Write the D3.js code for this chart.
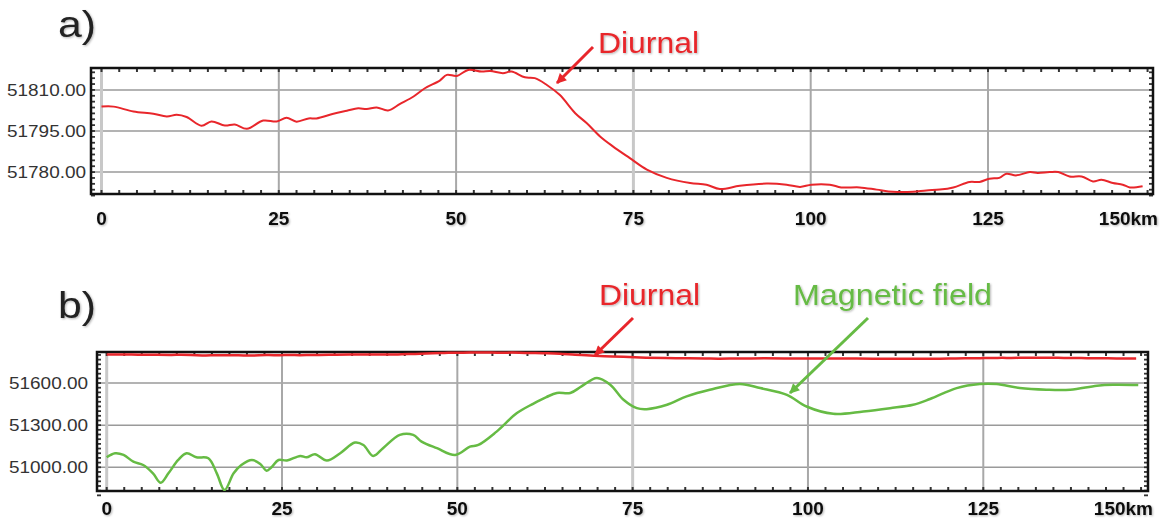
<!DOCTYPE html>
<html>
<head>
<meta charset="utf-8">
<script src="https://cdn.jsdelivr.net/npm/d3@7"></script>
<style>
  body { margin: 0; background: #fff; }
  text { font-family: "Liberation Sans", Arial, sans-serif; }
</style>
</head>
<body>
<script>
// diurnal variation, panel a (and repeated in panel b)
var diurnalKm = [0,1.7,4.5,7.3,9.2,10.6,12,14.1,15.5,17.4,18.8,20.5,22.8,24.7,26.1,27.5,29.2,30.3,32.7,34.6,
  36.2,37.4,38.8,40.4,42.1,44,45.6,47.7,48.7,50.1,51.7,53.6,54.8,56.6,57.8,59.7,61.1,62.8,64.6,66.8,
  68.4,70.3,72.1,74.5,76.9,79.7,83,85.3,87.2,90,93.8,96.6,98.5,100.1,102.7,104.3,106.9,109.3,111.6,114.4,
  116.3,118.2,120.1,122.4,123.8,125.2,126.6,127.6,129,130.9,132,133.7,134.9,136.5,138.2,139.8,141,142.6,144,145,146.8];
var diurnalNT = [51803.9,51803.9,51802.1,51801.3,51800.3,51800.9,51800.1,51796.9,51798.5,51797.0,51797.4,51795.8,51798.8,51798.5,51799.8,51798.4,51799.6,51799.6,51801.3,51802.4,
  51803.3,51803.0,51803.6,51802.5,51804.9,51807.6,51810.6,51813.4,51815.5,51815.1,51817.3,51816.7,51816.9,51816.1,51816.7,51814.6,51814.3,51811.8,51808.2,51801.5,
  51797.9,51793.0,51789.4,51785.1,51780.9,51777.9,51776.0,51775.4,51773.8,51775.0,51775.8,51775.4,51774.6,51775.4,51775.4,51774.4,51774.4,51773.6,51772.8,51772.8,
  51773.3,51773.6,51774.4,51776.4,51776.4,51777.6,51777.9,51779.4,51778.8,51780.0,51779.7,51780.0,51780.0,51778.4,51778.4,51776.6,51777.2,51776.0,51775.4,51774.4,51774.8];

// magnetic field, panel b
var fieldKm = [0,1.2,2.4,3.8,5.2,6.6,7.7,8.8,10.2,11.4,12.8,14.5,15.7,16.8,18.1,19.2,20.7,21.9,22.8,23.5,
  24.5,25.7,27.6,28.5,29.7,31.4,33.3,35.4,36.6,38,39.4,41.8,43.7,44.9,47.1,49.7,51.8,53,55.6,58.5,
  60.8,62.7,64.2,66.1,67.7,69.9,71.8,73.7,75.6,77,79.9,82.7,86,90.3,93.2,97,99.8,103.6,107.9,111.7,
  115,117.4,121.2,124.5,126.9,130.2,134,137.4,141.2,143.5,147.1];
var fieldNT = [51071,51100,51088,51040,51016,50957,50890,50957,51052,51100,51071,51064,50957,50838,50957,51016,51052,51024,50976,51000,
  51052,51048,51081,51071,51093,51048,51100,51176,51159,51081,51136,51231,51231,51183,51136,51088,51147,51159,51254,51386,
  51452,51500,51529,51529,51576,51636,51588,51481,51421,51414,51445,51505,51552,51593,51564,51516,51433,51381,51398,51421,
  51445,51486,51564,51593,51593,51564,51552,51552,51581,51588,51586];

var kmTicks = [0,25,50,75,100,125];
var kmLabels = ["0","25","50","75","100","125","150km"];
var yTicksA = [51780,51795,51810];
var yTicksB = [51000,51300,51600];

var red = "#e8262b", green = "#66bb44";

var svg = d3.select("body").append("svg").attr("width",1165).attr("height",521);
var defs = svg.append("defs");
defs.append("filter").attr("id","sh").attr("x","-10%").attr("y","-20%").attr("width","130%").attr("height","150%")
  .append("feDropShadow").attr("dx",1).attr("dy",1).attr("stdDeviation",0.8)
  .attr("flood-color","#000").attr("flood-opacity",0.3);
[["arR",red],["arG",green]].forEach(function(m){
  defs.append("marker").attr("id",m[0]).attr("viewBox","0 0 10 10").attr("refX",9).attr("refY",5)
    .attr("markerWidth",12).attr("markerHeight",10).attr("markerUnits","userSpaceOnUse").attr("orient","auto")
    .append("path").attr("d","M0,0 L10,5 L0,10 z").attr("fill",m[1]);
});

var panels = [
  {id:"a", left:91, right:1153, top:68, bottom:194, xr:[101.5,1165.3], yd:[51772,51818], yTicks:yTicksA, minor:7, labelEnd:86, labelY:225},
  {id:"b", left:97, right:1148, top:352, bottom:491, xr:[106.7,1158.6], yd:[50831,51821], yTicks:yTicksB, minor:9, labelEnd:88, labelY:515}
];

panels.forEach(function(p){
  var x = d3.scaleLinear().domain([0,150]).range(p.xr);
  var y = d3.scaleLinear().domain(p.yd).range([p.bottom,p.top]);
  p.x = x; p.y = y;
  var g = svg.append("g");

  defs.append("clipPath").attr("id","clip"+p.id).append("rect")
    .attr("x",p.left).attr("y",p.top-2).attr("width",p.right-p.left).attr("height",p.bottom-p.top+2);

  // grid
  g.selectAll(".hg").data(p.yTicks).enter().append("line")
    .attr("x1",p.left).attr("x2",p.right).attr("y1",y).attr("y2",y)
    .attr("stroke","#9a9a9a").attr("stroke-width",1.5);
  g.selectAll(".vg").data(kmTicks).enter().append("line")
    .attr("x1",x).attr("x2",x).attr("y1",p.top).attr("y2",p.bottom)
    .attr("stroke",function(d,i){ return (i%3==0 || i==3) ? "#c8c8c8" : "#a8a8a8"; })
    .attr("stroke-width",function(d,i){ return (i%3==0 || i==3) ? 3 : 2; });

  // edge ticks
  var kmMinor = d3.range(0, x.invert(p.right), 2.5);
  g.selectAll(".tt").data(kmMinor).enter().append("line")
    .attr("x1",x).attr("x2",x).attr("y1",p.top).attr("y2",p.top+4)
    .attr("stroke","#333").attr("stroke-width",2);
  g.selectAll(".bt").data(kmMinor).enter().append("line")
    .attr("x1",x).attr("x2",x).attr("y1",p.bottom).attr("y2",p.bottom-4)
    .attr("stroke","#333").attr("stroke-width",2);
  var step = (p.yTicks[1]-p.yTicks[0])/p.minor;
  var yMinor = d3.range(p.yTicks[0]-step*Math.ceil((p.yTicks[0]-p.yd[0])/step), p.yd[1], step);
  [p.left, p.right].forEach(function(ex, k){
    g.selectAll(".yt"+k).data(yMinor).enter().append("line")
      .attr("x1",ex).attr("x2",k==0 ? ex+4 : ex-4).attr("y1",y).attr("y2",y)
      .attr("stroke","#333").attr("stroke-width",1.8);
  });

  // frame
  g.append("rect").attr("x",p.left).attr("y",p.top).attr("width",p.right-p.left).attr("height",p.bottom-p.top)
    .attr("fill","none").attr("stroke","#111").attr("stroke-width",2.5);

  // y labels
  g.selectAll(".yl").data(p.yTicks).enter().append("text")
    .attr("x",p.labelEnd).attr("y",function(d){ return y(d)+6; })
    .attr("text-anchor","end").attr("font-size",17).attr("fill","#333")
    .attr("textLength",79).attr("lengthAdjust","spacingAndGlyphs")
    .text(function(d){ return d3.format(".2f")(d); });

  // x labels
  g.selectAll(".xl").data(kmLabels).enter().append("text")
    .attr("x",function(d,i){ return i < kmTicks.length ? x(kmTicks[i]) : p.right+5; })
    .attr("y",p.labelY)
    .attr("text-anchor",function(d,i){ return i < kmTicks.length ? "middle" : "end"; })
    .attr("font-size",19).attr("font-weight","bold").attr("fill","#111")
    .attr("filter","url(#sh)")
    .text(function(d){ return d; });
});

var A = panels[0], B = panels[1];

function lineOf(p){
  return d3.line().x(function(d){ return p.x(d[0]); }).y(function(d){ return p.y(d[1]); })
    .curve(d3.curveCatmullRom.alpha(0.5));
}
var diurnal = d3.zip(diurnalKm, diurnalNT);
var field = d3.zip(fieldKm, fieldNT);

svg.append("path").datum(diurnal).attr("d",lineOf(A)).attr("clip-path","url(#clipa)")
  .attr("fill","none").attr("stroke",red).attr("stroke-width",2);
svg.append("path").datum(diurnal).attr("d",lineOf(B)).attr("clip-path","url(#clipb)")
  .attr("fill","none").attr("stroke",red).attr("stroke-width",2.5);
svg.append("path").datum(field).attr("d",lineOf(B)).attr("clip-path","url(#clipb)")
  .attr("fill","none").attr("stroke",green).attr("stroke-width",2.5);

// panel letters
[["a)",37],["b)",318]].forEach(function(t){
  svg.append("text").attr("x",58).attr("y",t[1]).attr("font-size",37).attr("fill","#222")
    .attr("textLength",38).attr("lengthAdjust","spacingAndGlyphs")
    .attr("filter","url(#sh)").text(t[0]);
});

// annotations
function note(txt, tx, ty, len, col, marker, x1, y1, x2, y2){
  svg.append("text").attr("x",tx).attr("y",ty).attr("font-size",30).attr("fill",col)
    .attr("textLength",len).attr("lengthAdjust","spacingAndGlyphs")
    .attr("filter","url(#sh)").text(txt);
  svg.append("line").attr("x1",x1).attr("y1",y1).attr("x2",x2).attr("y2",y2)
    .attr("stroke",col).attr("stroke-width",3).attr("marker-end","url(#"+marker+")");
}
note("Diurnal", 598, 53, 101, red, "arR", 593, 47, 557, 83);
note("Diurnal", 599, 305, 101, red, "arR", 633, 318, 595, 355);
note("Magnetic field", 793, 305, 199, green, "arG", 868, 318, 790, 393);
</script>
</body>
</html>
